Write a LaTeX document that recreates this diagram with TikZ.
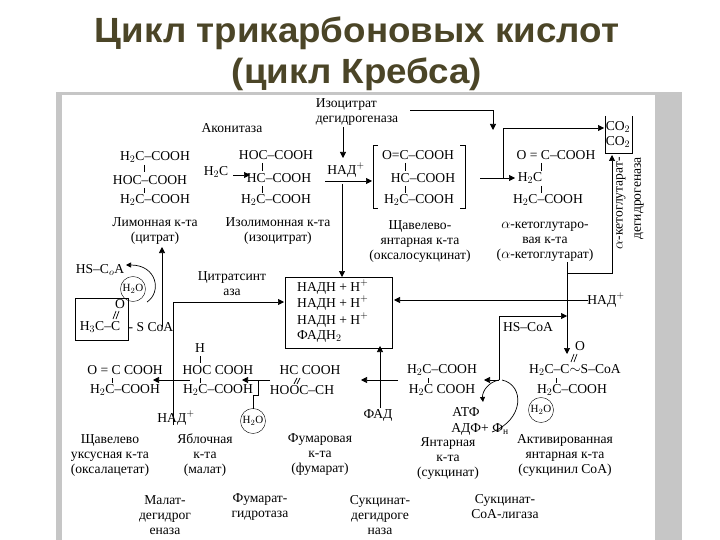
\documentclass[tikz,border=0pt]{standalone}
\usepackage{fontspec}
\setmainfont{Liberation Serif}
\newfontfamily\titlefont{Liberation Sans}
\usetikzlibrary{arrows.meta}
\definecolor{titlec}{HTML}{4B4527}
\begin{document}
\begin{tikzpicture}[x=1pt,y=-1pt,
  t/.style={inner sep=0pt,font=\fontsize{13.6}{15}\selectfont},
  ln/.style={line width=0.7pt},
  ar/.style={line width=0.7pt,-{Triangle[length=6pt,width=6pt]}},
  circ/.style={draw,circle,inner sep=1pt,font=\fontsize{11}{12}\selectfont}]
\useasboundingbox (0,0) rectangle (720,540);
\fill[gray!45] (56,92) rectangle (682,540);
\fill[white] (62,95) rectangle (655,540);
\node[font=\titlefont\bfseries\fontsize{35}{38}\selectfont,text=titlec,xscale=1.05] (title1) at (357,33) {Цикл трикарбоновых кислот};
\node[font=\titlefont\bfseries\fontsize{35}{38}\selectfont,text=titlec,xscale=1.05] (title2) at (357,74) {(цикл Кребса)};
% enzymes top
\node[t] (akon) at (232,128) {Аконитаза};
\node[t,align=left] (idh) at (357,112) {Изоцитрат\\дегидрогеназа};
% citrate
\node[t] (c1) at (155,157) {H$_2$C--COOH};
\node[t] (c2) at (150,180) {HOC--COOH};
\node[t] (c3) at (155,200) {H$_2$C--COOH};
\draw[ln] (144,165)--(144,172) (144,188)--(144,193);
\node[t,align=center] (citn) at (155,231) {Лимонная к-та\\(цитрат)};
% isocitrate
\node[t] (h2c) at (216,172) {H$_2$C};
\node[t] (i1) at (276,155) {HOC--COOH};
\node[t] (i2) at (279,178) {HC--COOH};
\node[t] (i3) at (276,200) {H$_2$C--COOH};
\draw[ln] (262,163)--(262,171) (262,186)--(262,193);
\draw[ar] (233,175)--(250,175);
\node[t,align=center] (isocn) at (278,231) {Изолимонная к-та\\(изоцитрат)};
% NAD and arrows
\node[t] (nad1) at (346,170) {НАД$^+$};
\draw[ar] (343,127)--(343,158);
\draw[ar] (325,181)--(372,181);
\draw[ar] (342,184)--(342,277);
\draw[ar] (410,110)--(493,110)--(493,130);
% oxalosuccinate
\draw[ln] (378,145)--(373,145)--(373,208)--(378,208);
\draw[ln] (460,145)--(465,145)--(465,208)--(460,208);
\node[t] (o1) at (418,155) {O=C--COOH};
\node[t] (o2) at (423,178) {HC--COOH};
\node[t] (o3) at (419,200) {H$_2$C--COOH};
\draw[ln] (405,163)--(405,171) (405,186)--(405,193);
\node[t,align=center] (oxsn) at (420,242) {Щавелево-\\янтарная к-та\\(оксалосукцинат)};
% alpha-KG
\draw[ar] (480,178)--(515,178);
\draw[ar] (503,178)--(503,128)--(604,128);
\draw[ln] (605,116)--(605,153)--(632,153)--(632,116);
\node[t] (co2a) at (618,127) {CO$_2$};
\node[t] (co2b) at (618,142) {CO$_2$};
\node[t] (k1) at (556,155) {O = C--COOH};
\node[t] (k2) at (530,178) {H$_2$C};
\node[t] (k3) at (548,200) {H$_2$C--COOH};
\draw[ln] (541,163)--(541,171) (541,186)--(541,193);
\node[t,align=center] (akgn) at (545,242) {$\alpha$-кетоглутаро-\\вая к-та\\($\alpha$-кетоглутарат)};
\node[t,rotate=90,anchor=east] (kgdh1) at (621,157) {$\alpha$-кетоглутарат-};
\node[t,rotate=90,anchor=east] (kgdh2) at (639,157) {дегидрогеназа};
\draw[ar] (567,262)--(567,273)--(612,273)--(612,155);
\draw[ar] (567,273)--(567,354);
% NADH box
\draw[ln] (285,277) rectangle (392,348);
\node[t,anchor=west] (n1) at (297,287) {НАДН + Н$^+$};
\node[t,anchor=west] (n2) at (297,303) {НАДН + Н$^+$};
\node[t,anchor=west] (n3) at (297,320) {НАДН + Н$^+$};
\node[t,anchor=west] (n4) at (297,336) {ФАДН$_2$};
\node[t] (nad2) at (606,300) {НАД$^+$};
\draw[ar] (588,300)--(394,300);
\node[t] (hscoa2) at (528,327) {HS--CoA};
\draw[ar] (499,380)--(499,316)--(567,316);
% citrate synthase
\node[t,align=center] (cs) at (232,284) {Цитратсинт\\аза};
\draw[ar] (173,425)--(173,302)--(284,302);
\draw[ar] (162,327)--(162,247);
\node[t] (hscoa1) at (100,270) {HS--C$_o$A};
\node[circ] (h2o1) at (133,289) {H$_2$O};
\draw[ln,-{Triangle[length=5pt,width=5pt]}] (147,302) .. controls (162,292) and (157,265) .. (126,265);
\draw[ln] (75,298) rectangle (128,340);
\node[t] (acO) at (120,304) {O};
\draw[ln] (116,311)--(113,319) (119,311)--(116,319);
\node[t] (ac1) at (100,327) {H$_3$C--C};
\node[t] (ac2) at (151,327) {- S CoA};
% lower row
\node[t] (ox1) at (125,370) {O = C COOH};
\node[t] (ox2) at (125,390) {H$_2$C--COOH};
\draw[ln] (112,378)--(112,383);
\node[t] (mh) at (200,348) {H};
\draw[ln] (200,356)--(200,363);
\node[t] (m1) at (218,370) {HOC COOH};
\node[t] (m2) at (218,390) {H$_2$C--COOH};
\draw[ln] (200,378)--(200,383);
\draw[ar] (190,380)--(153,380);
\draw[ar] (270,380)--(242,380);
\node[t] (f1) at (310,370) {HC COOH};
\node[t] (f2) at (302,390) {HOOC--CH};
\draw[ln] (297,378)--(294,384) (300,378)--(297,384);
\draw[ar] (398,380)--(361,380);
\draw[ar] (380,408)--(380,346);
\node[t] (fad) at (378,415) {ФАД};
\node[circ] (h2o2) at (253,421) {H$_2$O};
\draw[ln] (253,409)--(253,395)--(258,395)--(258,380);
\node[t] (nad3) at (176,418) {НАД$^+$};
\node[t] (s1) at (442,370) {H$_2$C--COOH};
\node[t] (s2) at (442,390) {H$_2$C COOH};
\draw[ln] (428,378)--(428,383);
\draw[ar] (499,380)--(484,380);
\draw[ln,-{Triangle[length=5pt,width=5pt]}] (499,380) .. controls (488,382) and (482,392) .. (483,402);
\node[t] (atf) at (466,412) {АТФ};
\draw[ln] (492,432) .. controls (524,420) and (525,385) .. (502,380);
\node[t] (adp) at (480,429) {АДФ+ Ф\textsubscript{н}};
\node[circ] (h2o3) at (541,410) {H$_2$O};
\node[t] (sc0) at (580,346) {O};
\draw[ln] (574,354)--(571,362) (577,354)--(574,362);
\node[t] (sc1) at (575,370) {H$_2$C--C$\sim$S--CoA};
\node[t] (sc2) at (572,390) {H$_2$C--COOH};
\draw[ln] (556,378)--(556,383);
% names
\node[t,align=center] (oan) at (110,455) {Щавелево\\уксусная к-та\\(оксалацетат)};
\node[t,align=center] (man) at (205,455) {Яблочная\\к-та\\(малат)};
\node[t,align=center] (fun) at (320,455) {Фумаровая\\к-та\\(фумарат)};
\node[t,align=center] (sun) at (448,459) {Янтарная\\к-та\\(сукцинат)};
\node[t,align=center] (scn) at (565,455) {Активированная\\янтарная к-та\\(сукцинил CoA)};
\node[t,align=center] (mdh) at (165,515) {Малат-\\дегидрог\\еназа};
\node[t,align=center] (fh) at (260,507) {Фумарат-\\гидротаза};
\node[t,align=center] (sdh) at (380,515) {Сукцинат-\\дегидроге\\наза};
\node[t,align=center] (scl) at (505,507) {Сукцинат-\\CoA-лигаза};
\end{tikzpicture}
\end{document}
